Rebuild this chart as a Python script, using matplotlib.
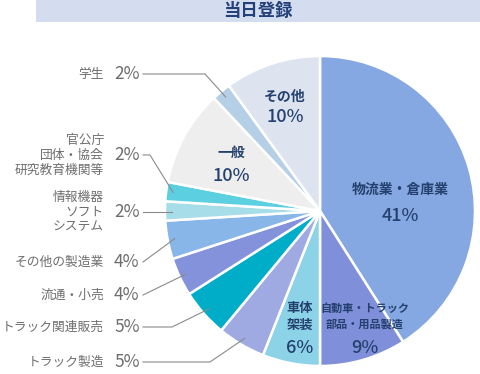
import math
import matplotlib
matplotlib.use("Agg")
import matplotlib.pyplot as plt
from matplotlib.patches import Rectangle

plt.rcParams['font.family'] = ['Noto Sans CJK JP', 'DejaVu Sans']

# データ (12時の位置から時計回り)
categories = ["物流業・倉庫業", "自動車・トラック部品・用品製造", "車体架装", "トラック製造",
              "トラック関連販売", "流通・小売", "その他の製造業", "情報機器ソフトシステム",
              "官公庁団体・協会研究教育機関等", "一般", "学生", "その他"]
shares = [41, 9, 6, 5, 5, 4, 4, 2, 2, 10, 2, 10]
colors = ["#86a8e2", "#7f8fd9", "#8cd3e8", "#a0aae2", "#00adc9", "#8492dc",
          "#88b6e8", "#a6dde9", "#5ccfe1", "#eeeeee", "#b5cfe6", "#dde3ef"]

# 内側ラベル: (index, テキスト, x, y, 文字サイズ, %のy)  y は上からのピクセル
inner_labels = [
    (0, "物流業・倉庫業", 400, 190, 10, 216),
    (1, "自動車・トラック\n部品・用品製造", 365, 316, 8, 348),
    (2, "車体\n架装", 300, 316, 9.5, 348),
    (9, "一般", 231, 153, 10, 176),
    (11, "その他", 285, 97, 10, 117),
]

# 外側ラベル: (index, テキスト, y, 折れ点x)
outer_labels = [
    (10, "学生", 74, 205),
    (8, "官公庁\n団体・協会\n研究教育機関等", 155, 150),
    (7, "情報機器\nソフト\nシステム", 212, None),
    (6, "その他の製造業", 262, 143),
    (5, "流通・小売", 295, 143),
    (4, "トラック関連販売", 327, 172),
    (3, "トラック製造", 362, 210),
]

W, H = 480, 374
CX, CY, R = 320, 211, 155

fig = plt.figure(figsize=(W / 100, H / 100), dpi=100)
ax = fig.add_axes([0, 0, 1, 1])

# タイトル帯
ax.add_patch(Rectangle((36, H - 22), W - 36, 22, color="#d3ddef", lw=0))
ax.text(258, H - 11, "当日登録", ha='center', va='center', fontsize=12.5,
        fontweight='bold', color="#23407a")

ax.pie(shares, colors=colors, startangle=90, counterclock=False,
       center=(CX, H - CY), radius=R,
       wedgeprops=dict(edgecolor='white', linewidth=1.8))
ax.set_xlim(0, W)
ax.set_ylim(0, H)
ax.set_aspect('equal')
ax.axis('off')


def slice_point(i, frac):
    start = sum(shares[:i])
    mid = (start + shares[i] / 2) / 100 * 2 * math.pi
    x = CX + frac * R * math.sin(mid)
    y = CY - frac * R * math.cos(mid)
    return x, y


navy = "#24406e"
for i, name, x, y, fs, py in inner_labels:
    ax.text(x, H - y, name, ha='center', va='center', fontsize=fs,
            color=navy, fontweight='bold', linespacing=1.25)
    ax.text(x, H - py, f"{shares[i]}%", ha='center', va='center',
            fontsize=13, color=navy, fontweight='medium')

gray = "#6e6e6e"
for i, name, y, elbow in outer_labels:
    ax.text(104, H - y, name, ha='right', va='center', fontsize=9.2,
            color=gray, linespacing=1.2)
    ax.text(114, H - y, f"{shares[i]}%", ha='left', va='center',
            fontsize=12.5, color=gray)
    px, py = slice_point(i, 0.955)
    if elbow is None:
        xs, ys = [143, px], [y, y]
    else:
        xs, ys = [143, elbow, px], [y, y, py]
    ax.plot(xs, [H - v for v in ys], color="#8a8a8a", lw=0.8)

fig.savefig("out.png", dpi=100)
